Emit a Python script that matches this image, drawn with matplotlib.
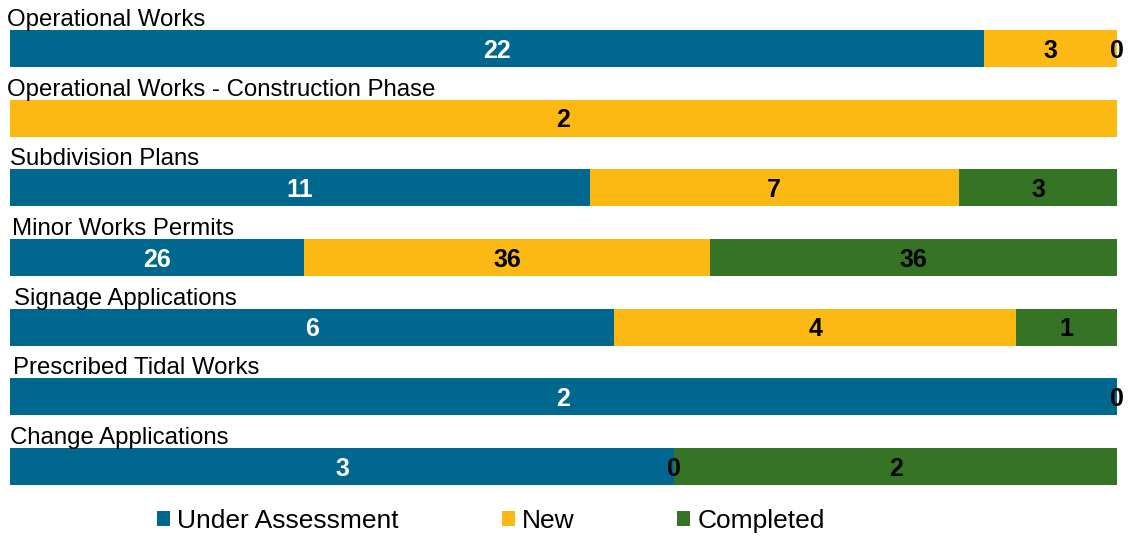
import matplotlib
matplotlib.use("Agg")
import matplotlib.pyplot as plt
from matplotlib.patches import Patch
import numpy as np

categories = ["Operational Works", "Operational Works - Construction Phase", "Subdivision Plans",
              "Minor Works Permits", "Signage Applications", "Prescribed Tidal Works", "Change Applications"]
series_names = ["Under Assessment", "New", "Completed"]
under_assessment = [22, None, 11, 26, 6, 2, 3]
new = [3, 2, 7, 36, 4, None, 0]
completed = [0, None, 3, 36, 1, 0, 2]

# style
colors = ["#00678F", "#FDB913", "#357325"]
label_colors = ["white", "black", "black"]
label_indent_px = [-3, -3, 0, 2, 4, 3, 0]

plt.rcParams['font.family'] = ['Liberation Sans', 'DejaVu Sans']

W, H = 1128, 537
fig = plt.figure(figsize=(W / 100, H / 100), dpi=100)
ax = fig.add_axes([10 / W, 1 - 501.3 / H, 1107 / W, (501.3 - 13.7) / H])

series = [under_assessment, new, completed]
n = len(categories)
for i in range(n):
    vals = [s[i] for s in series]
    total = sum(v for v in vals if v is not None)
    left = 0.0
    for k, v in enumerate(vals):
        if v is None:
            continue
        w = v / total
        ax.barh(i, w, left=left, height=0.53, color=colors[k], edgecolor='none')
        ax.text(left + w / 2, i + 0.03, str(v), ha='center', va='center', fontsize=18,
                fontweight='bold', color=label_colors[k] if v > 0 else 'black', clip_on=False)
        left += w
    ax.text(label_indent_px[i] / 1107, i - 0.265 - 0.06, categories[i], ha='left', va='baseline',
            fontsize=17.3, color='black')

ax.set_xlim(0, 1)
ax.set_ylim(n - 0.5, -0.5)
ax.axis('off')

handles = [Patch(facecolor=c, edgecolor='none') for c in colors]
fig.legend(handles, series_names, loc='center left', bbox_to_anchor=(157 / W, 1 - 521 / H), ncol=3,
           frameon=False, fontsize=19, handlelength=0.49, handleheight=0.49, handletextpad=0.27,
           columnspacing=3.9, borderpad=0, borderaxespad=0)

fig.savefig("out.png", dpi=100)
